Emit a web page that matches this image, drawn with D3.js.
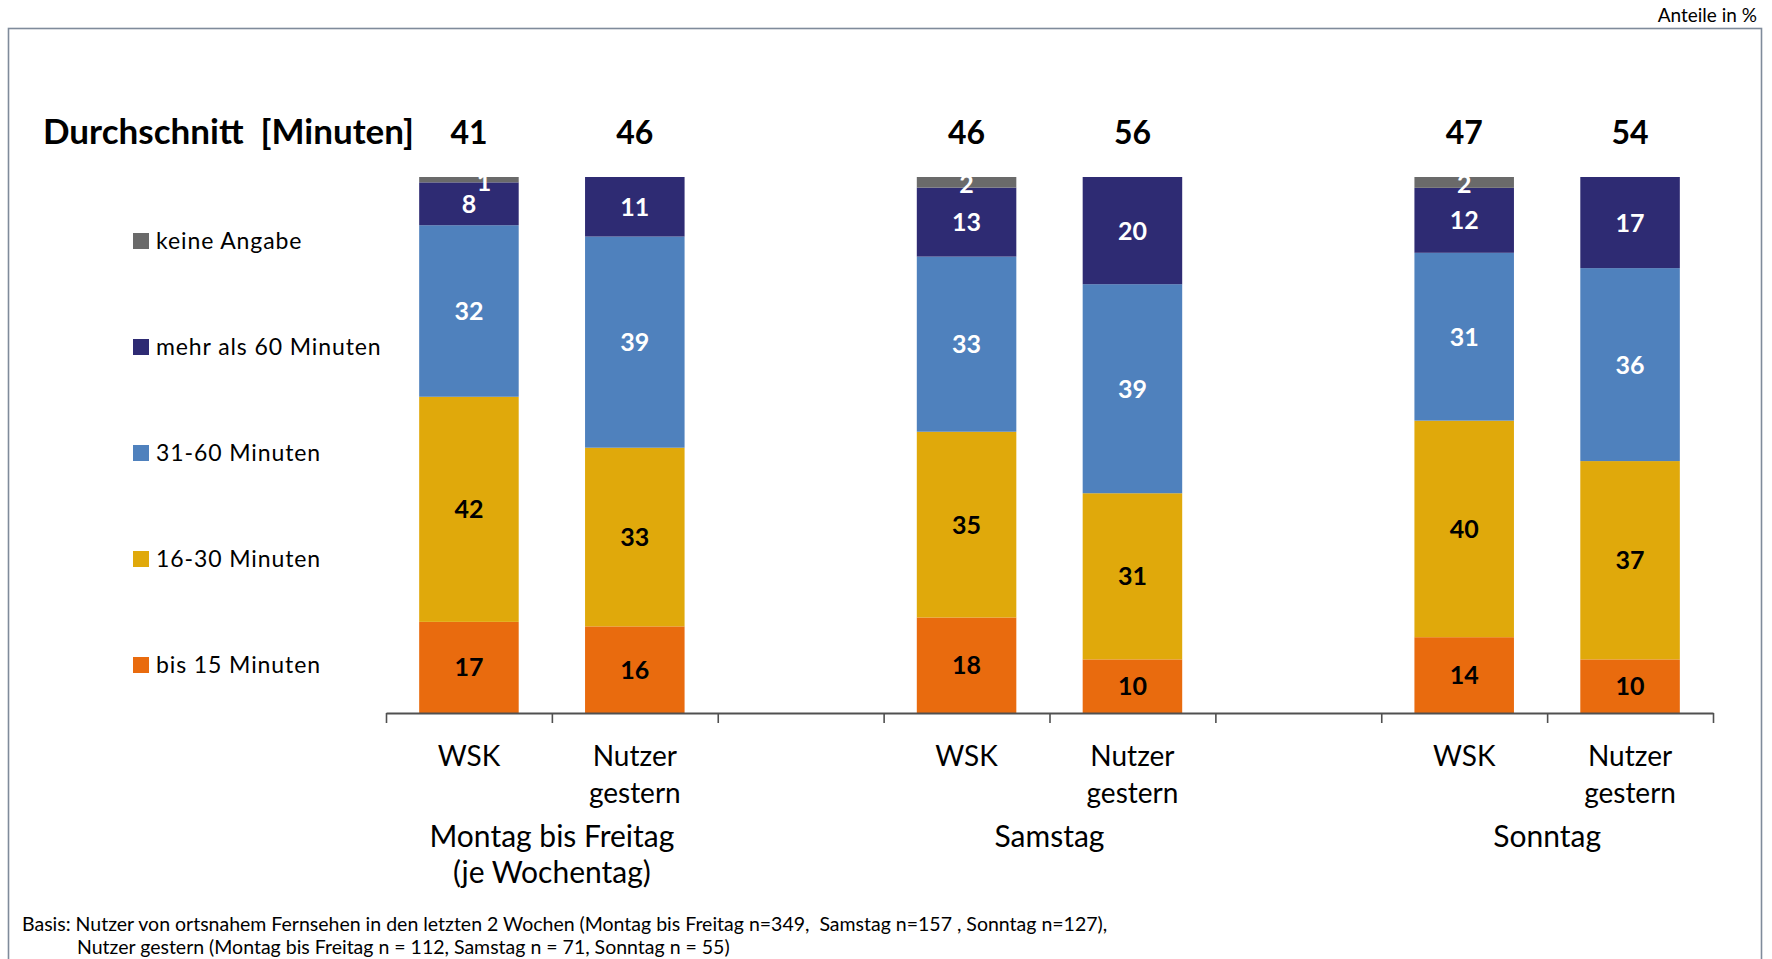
<!DOCTYPE html>
<html>
<head>
<meta charset="utf-8">
<script src="https://cdn.jsdelivr.net/npm/d3@7/dist/d3.min.js"></script>
<style>
  html, body { margin: 0; padding: 0; background: #fff; }
  svg { display: block; font-family: Lato, "Open Sans", sans-serif; }
</style>
</head>
<body>
<svg id="chart" width="1772" height="959"></svg>
<script>
// ---------- data ----------
const slots = ["MoFr-WSK", "MoFr-Nutzer", "gap1", "Sa-WSK", "Sa-Nutzer", "gap2", "So-WSK", "So-Nutzer"];
const barKeys = ["MoFr-WSK", "MoFr-Nutzer", "Sa-WSK", "Sa-Nutzer", "So-WSK", "So-Nutzer"];
const barLabels = [["WSK"], ["Nutzer", "gestern"], ["WSK"], ["Nutzer", "gestern"], ["WSK"], ["Nutzer", "gestern"]];
const groupLabels = [["Montag bis Freitag", "(je Wochentag)"], ["Samstag"], ["Sonntag"]];
const groupSlots = [["MoFr-WSK", "MoFr-Nutzer"], ["Sa-WSK", "Sa-Nutzer"], ["So-WSK", "So-Nutzer"]];
const averages = [41, 46, 46, 56, 47, 54];

const seriesNames = ["bis 15 Minuten", "16-30 Minuten", "31-60 Minuten", "mehr als 60 Minuten", "keine Angabe"];
const bis15     = [17, 16, 18, 10, 14, 10];
const m16_30    = [42, 33, 35, 31, 40, 37];
const m31_60    = [32, 39, 33, 39, 31, 36];
const mehr60    = [8, 11, 13, 20, 12, 17];
const keineAng  = [1, 0, 2, 0, 2, 0];
const seriesColors = ["#e96b0e", "#e0a90b", "#4f81bd", "#2e2b73", "#6a6a6a"];
const labelColors = ["#000", "#000", "#fff", "#fff", "#fff"];

const titleText = "Durchschnitt  [Minuten]";
const unitText = "Anteile in %";
const footLines = [
  "Basis: Nutzer von ortsnahem Fernsehen in den letzten 2 Wochen (Montag bis Freitag n=349,  Samstag n=157 , Sonntag n=127),",
  "Nutzer gestern (Montag bis Freitag n = 112, Samstag n = 71, Sonntag n = 55)"
];

// ---------- build ----------
const seriesArrays = [bis15, m16_30, m31_60, mehr60, keineAng];
const table = barKeys.map((k, i) => {
  const row = { key: k };
  seriesNames.forEach((s, j) => row[s] = seriesArrays[j][i]);
  return row;
});
const stacked = d3.stack().keys(seriesNames).offset(d3.stackOffsetExpand)(table);

const svg = d3.select("#chart");

// frame
svg.append("rect")
  .attr("x", 8.5).attr("y", 28.5).attr("width", 1753).attr("height", 1000)
  .attr("fill", "none").attr("stroke", "#7f8b9b").attr("stroke-width", 1.6);

svg.append("text").attr("x", 1757).attr("y", 22).attr("text-anchor", "end")
  .attr("font-size", 19).attr("fill", "#000").text(unitText);

const x = d3.scaleBand().domain(slots).range([386, 1713]).padding(0);
const barW = x.bandwidth() * 0.6;
const y = d3.scaleLinear().domain([0, 1]).range([713, 177]);

// bars
const layers = svg.append("g").selectAll("g").data(stacked).join("g")
  .attr("fill", (d, i) => seriesColors[i]);
layers.selectAll("rect").data(d => d).join("rect")
  .attr("x", d => x(d.data.key) + (x.bandwidth() - barW) / 2)
  .attr("y", d => y(d[1]))
  .attr("width", barW)
  .attr("height", d => Math.max(0, y(d[0]) - y(d[1])));

// value labels
stacked.forEach((layer, i) => {
  svg.append("g").selectAll("text").data(layer.filter(d => d.data[layer.key] > 0)).join("text")
    .attr("x", d => {
      const v = d.data[layer.key];
      return x(d.data.key) + x.bandwidth() / 2 + (v < 2 ? 15 : 0);
    })
    .attr("y", d => {
      const v = d.data[layer.key];
      const c = (y(d[0]) + y(d[1])) / 2;
      return v <= 2 ? c + 11 : c + 9;
    })
    .attr("text-anchor", "middle")
    .attr("font-size", 25).attr("font-weight", "bold")
    .attr("fill", labelColors[i])
    .text(d => d.data[layer.key]);
});

// axis
const xi = d3.scaleLinear().domain([0, slots.length]).range([386, 1713]);
const axis = svg.append("g").attr("transform", "translate(0,713)")
  .call(d3.axisBottom(xi).tickValues(d3.range(0, slots.length + 1)).tickFormat("").tickSize(10).tickSizeOuter(0));
axis.select(".domain").attr("stroke", "#505050").attr("stroke-width", 2.2);
axis.selectAll(".tick line").attr("stroke", "#505050").attr("stroke-width", 1.6);

// category labels
barKeys.forEach((k, i) => {
  const t = svg.append("text").attr("text-anchor", "middle").attr("font-size", 28).attr("fill", "#000");
  barLabels[i].forEach((line, j) => {
    t.append("tspan").attr("x", x(k) + x.bandwidth() / 2).attr("y", 766 + j * 37).text(line);
  });
});

// group labels
groupLabels.forEach((lines, g) => {
  const cx = d3.mean(groupSlots[g], s => x(s) + x.bandwidth() / 2);
  const t = svg.append("text").attr("text-anchor", "middle").attr("font-size", 30).attr("fill", "#000");
  lines.forEach((line, j) => {
    t.append("tspan").attr("x", cx).attr("y", 847 + j * 36).text(line);
  });
});

// title + averages
svg.append("text").attr("x", 43).attr("y", 144).attr("font-size", 35).attr("font-weight", "bold")
  .attr("xml:space", "preserve").style("white-space", "pre").text(titleText);
svg.append("g").selectAll("text").data(averages).join("text")
  .attr("x", (d, i) => x(barKeys[i]) + x.bandwidth() / 2)
  .attr("y", 144).attr("text-anchor", "middle")
  .attr("font-size", 32).attr("font-weight", "bold").text(d => d);

// legend (top to bottom: reversed series)
const legendOrder = seriesNames.map((s, i) => i).reverse();
const leg = svg.append("g").selectAll("g").data(legendOrder).join("g")
  .attr("transform", (d, i) => `translate(133,${241 + i * 106})`);
leg.append("rect").attr("x", 0).attr("y", -8).attr("width", 16).attr("height", 16)
  .attr("fill", d => seriesColors[d]);
leg.append("text").attr("x", 23).attr("y", 8).attr("font-size", 23).attr("letter-spacing", 0.9)
  .attr("fill", "#000").text(d => seriesNames[d]);

// footnote
svg.append("text").attr("x", 22).attr("y", 931).attr("font-size", 19.5).attr("xml:space", "preserve")
  .style("white-space", "pre").text(footLines[0]);
svg.append("text").attr("x", 77).attr("y", 954).attr("font-size", 19.5).attr("xml:space", "preserve")
  .style("white-space", "pre").text(footLines[1]);
</script>
</body>
</html>
